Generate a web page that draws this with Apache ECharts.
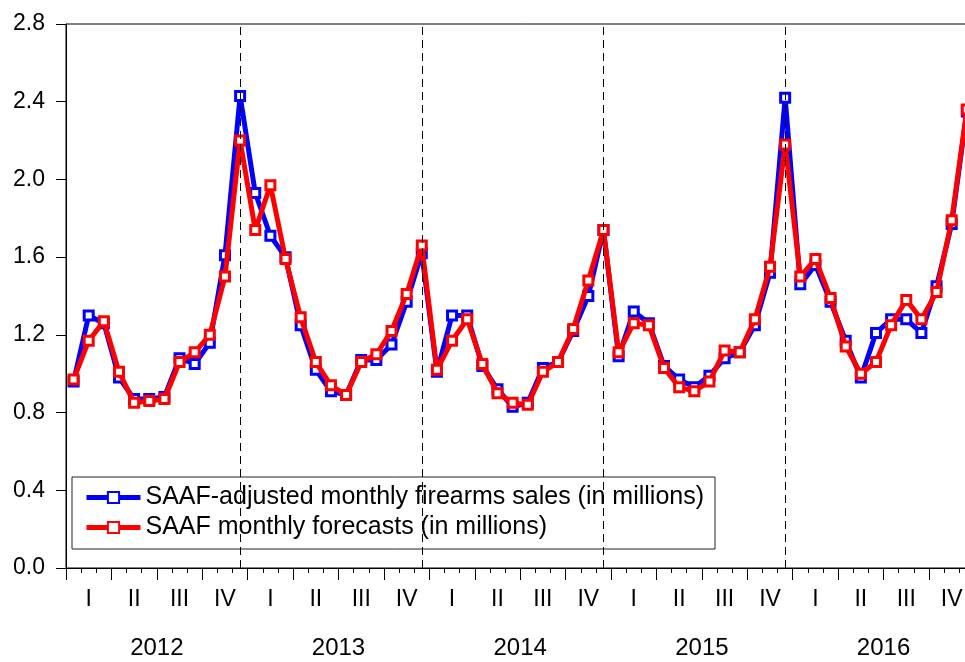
<!DOCTYPE html>
<html>
<head>
<meta charset="utf-8">
<script src="https://cdn.jsdelivr.net/npm/echarts@6/dist/echarts.min.js"></script>
<style>
html,body{margin:0;padding:0;background:#fff;overflow:hidden;width:965px;height:662px;}
#chart{width:985px;height:662px;}
</style>
</head>
<body>
<div id="chart"></div>
<script>
var years = ['2012','2013','2014','2015','2016'];
var quarterLabels = ['I','II','III','IV'];
var months = [];
for (var y = 0; y < years.length; y++) {
  for (var m = 1; m <= 12; m++) months.push(years[y] + '-' + (m < 10 ? '0' + m : m));
}
var adjustedSales = [
  0.96,1.30,1.26,0.98,0.87,0.87,0.88,1.08,1.05,1.16,1.61,2.43,
  1.93,1.71,1.60,1.25,1.02,0.91,0.89,1.07,1.07,1.15,1.37,1.62,
  1.01,1.30,1.30,1.04,0.92,0.83,0.85,1.03,1.06,1.22,1.40,1.74,
  1.09,1.32,1.26,1.04,0.97,0.93,0.99,1.08,1.11,1.25,1.52,2.42,
  1.46,1.56,1.37,1.17,0.98,1.21,1.28,1.28,1.21,1.45,1.77,2.35
];
var forecasts = [
  0.97,1.17,1.27,1.01,0.85,0.86,0.87,1.06,1.11,1.20,1.50,2.20,
  1.74,1.97,1.59,1.29,1.06,0.94,0.89,1.06,1.10,1.22,1.41,1.66,
  1.02,1.17,1.28,1.05,0.90,0.85,0.84,1.01,1.06,1.23,1.48,1.74,
  1.11,1.26,1.25,1.03,0.93,0.91,0.96,1.12,1.11,1.28,1.55,2.18,
  1.50,1.59,1.39,1.14,1.00,1.06,1.25,1.38,1.28,1.42,1.79,2.36
];
var seriesNames = ['SAAF-adjusted monthly firearms sales (in millions)', 'SAAF monthly forecasts (in millions)'];
var dashedAt = ['2012-12','2013-12','2014-12','2015-12'];

var FONT = 'Liberation Sans, Arial, sans-serif';
var chart = echarts.init(document.getElementById('chart'), null, {renderer: 'canvas'});
chart.setOption({
  animation: false,
  backgroundColor: '#fff',
  grid: {left: 66, top: 24, width: 908.4, height: 544, show: true, borderColor: '#000', borderWidth: 1, backgroundColor: 'transparent'},
  legend: {
    left: 72, top: 477, orient: 'vertical',
    backgroundColor: '#fff', borderColor: '#222', borderWidth: 1,
    padding: [8, 11, 9, 12], itemGap: 5, itemWidth: 54, itemHeight: 14,
    lineStyle: {width: 5},
    textStyle: {fontFamily: FONT, fontSize: 25, color: '#000'},
    data: seriesNames
  },
  xAxis: [
    {
      type: 'category', data: months, boundaryGap: true, position: 'bottom',
      axisLine: {show: true, lineStyle: {color: '#000', width: 1}},
      axisTick: {show: true, interval: 0, length: 5, lineStyle: {color: '#000'}},
      axisLabel: {
        interval: function (i) { return i % 3 === 1; },
        formatter: function (v, i) { return quarterLabels[Math.floor((i % 12) / 3)]; },
        margin: 20, fontFamily: FONT, fontSize: 23, color: '#000'
      },
      splitLine: {show: false}
    },
    {
      type: 'category', data: months, boundaryGap: true, position: 'bottom',
      axisLine: {show: false},
      axisTick: {show: true, interval: function (i) { return i % 3 === 0; }, length: 12, lineStyle: {color: '#000'}},
      axisLabel: {show: false}, splitLine: {show: false}
    },
    {
      type: 'category', data: years, boundaryGap: true, position: 'bottom',
      axisLine: {show: false}, axisTick: {show: false},
      axisLabel: {interval: 0, margin: 68, fontFamily: FONT, fontSize: 24, color: '#000'},
      splitLine: {show: false}
    }
  ],
  yAxis: {
    type: 'value', min: 0, max: 2.8, interval: 0.4,
    axisLine: {show: true, lineStyle: {color: '#000', width: 1}},
    axisTick: {show: true, length: 10, lineStyle: {color: '#000'}},
    axisLabel: {margin: 21, fontFamily: FONT, fontSize: 23, color: '#000', formatter: function (v) { return v.toFixed(1); }},
    splitLine: {show: false}
  },
  series: [
    {
      name: seriesNames[0], type: 'line', data: adjustedSales,
      symbol: 'rect', symbolSize: 9, showAllSymbol: true,
      lineStyle: {color: '#0000ff', width: 5},
      itemStyle: {color: '#ffffff', borderColor: '#0000ff', borderWidth: 3},
      markLine: {
        silent: true, symbol: 'none', label: {show: false},
        lineStyle: {color: '#000', width: 1, type: [8, 5]},
        data: dashedAt.map(function (d) { return {xAxis: d}; })
      },
      z: 2
    },
    {
      name: seriesNames[1], type: 'line', data: forecasts,
      symbol: 'rect', symbolSize: 9, showAllSymbol: true,
      lineStyle: {color: '#ff0000', width: 5},
      itemStyle: {color: '#ffffff', borderColor: '#ff0000', borderWidth: 3},
      z: 3
    }
  ]
});
</script>
</body>
</html>
